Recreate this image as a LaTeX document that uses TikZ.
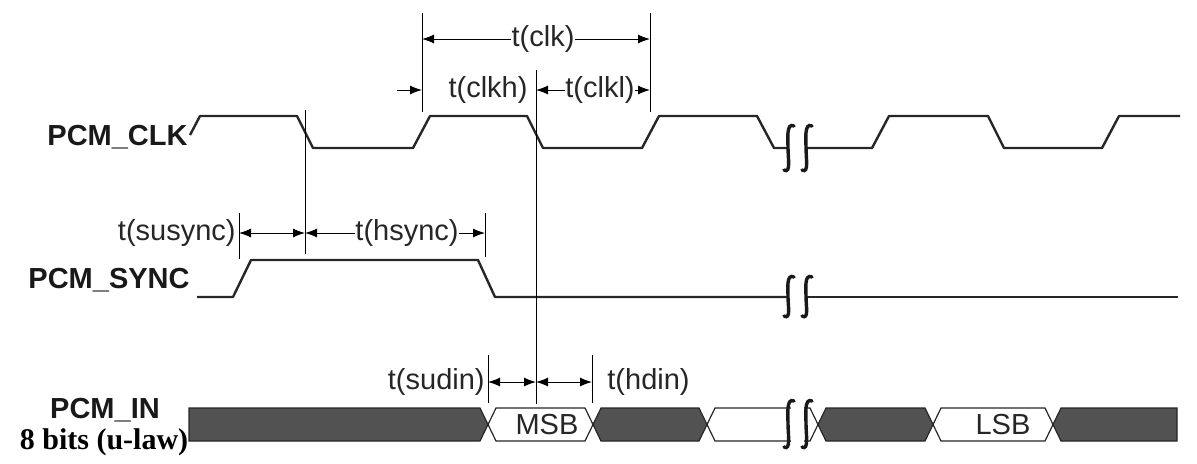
\documentclass[tikz,border=0pt]{standalone}
\usepackage{fontspec}
\setmainfont{Liberation Sans}
\newfontfamily\timesfont{Liberation Serif}
\usetikzlibrary{arrows.meta}

\begin{document}
\begin{tikzpicture}[x=0.5pt,y=-0.5pt,
  every path/.style={>={Latex[length=6pt,width=4.5pt]}},
  sig/.style={draw=black!85,line width=1.2pt,line join=round},
  dim/.style={draw=black,line width=0.5pt},
  lbl/.style={inner sep=0pt,text=black!85,font=\fontsize{14.5}{17}\selectfont},
  signame/.style={inner sep=0pt,text=black!90,font=\fontsize{14.5}{17}\selectfont\bfseries},
  busfill/.style={draw=black!85,line width=0.6pt,fill=black!68},
  busfree/.style={draw=black!85,line width=0.6pt,fill=white},
  brk/.style={draw=black!90,line width=1.7pt,line cap=round}]
\useasboundingbox (0,0) rectangle (1197,463);
% signal names
\node[signame,anchor=base east] (clkname)  at (188,145) {PCM\_CLK};
\node[signame,anchor=base east] (syncname) at (190,288) {PCM\_SYNC};
\node[signame,anchor=base]      (inname)   at (105,418) {PCM\_IN};
\node[inner sep=0pt,anchor=base,font=\fontsize{15}{17}\timesfont\bfseries] (inlaw) at (104,449) {8 bits (u-law)};
% PCM_CLK
\draw[sig] (190,135) -- (200,116) -- (297,116) -- (313,148) -- (413,148) -- (430,116) -- (527,116)
  -- (543,148) -- (642,148) -- (659,116) -- (757,116) -- (774,148) -- (788,148);
\draw[sig] (806,148) -- (872,148) -- (889,116) -- (988,116) -- (1004,148) -- (1102,148)
  -- (1119,116) -- (1180,116);
% PCM_SYNC
\draw[sig] (197,297) -- (233,297) -- (251,260) -- (478,260) -- (495,297) -- (788,297);
\draw[sig] (806,297) -- (1178,297);
% PCM_IN
\draw[busfill] (189,408) -- (480,408) -- (488,424.5) -- (480,441) -- (189,441) -- cycle;
\draw[busfree] (488,424.5) -- (496,408) -- (585,408) -- (593,424.5) -- (585,441) -- (496,441) -- cycle;
\draw[busfill] (593,424.5) -- (601,408) -- (699,408) -- (707,424.5) -- (699,441) -- (601,441) -- cycle;
\draw[busfree] (707,424.5) -- (715,408) -- (810,408) -- (818,424.5) -- (810,441) -- (715,441) -- cycle;
\draw[busfill] (818,424.5) -- (826,408) -- (925,408) -- (933,424.5) -- (925,441) -- (826,441) -- cycle;
\draw[busfree] (933,424.5) -- (941,408) -- (1045,408) -- (1053,424.5) -- (1045,441) -- (941,441) -- cycle;
\draw[busfill] (1053,424.5) -- (1061,408) -- (1177,408) -- (1177,441) -- (1061,441) -- cycle;
\node[lbl] (msb) at (547,424.5) {MSB};
\node[lbl] (lsb) at (1003,424.5) {LSB};
% breaks
\fill[white] (791,403) rectangle (804,446);
\draw[brk] (794,126) .. controls (786,122) and (788,140) .. (788,148) .. controls (788,158) and (791,174) .. (784,170);
\draw[brk] (812,126) .. controls (804,122) and (806,140) .. (806,148) .. controls (806,158) and (809,174) .. (802,170);
\draw[brk] (794,277) .. controls (786,273) and (788,290) .. (788,297) .. controls (788,306) and (791,320) .. (784,316);
\draw[brk] (812,277) .. controls (804,273) and (806,290) .. (806,297) .. controls (806,306) and (809,320) .. (802,316);
\draw[brk] (794,401) .. controls (786,397) and (788,416) .. (788,424) .. controls (788,434) and (791,451) .. (784,447);
\draw[brk] (812,401) .. controls (804,397) and (806,416) .. (806,424) .. controls (806,434) and (809,451) .. (802,447);
% reference lines
\coordinate (clkt)  at (422,13);  \coordinate (clkb)  at (422,112);
\coordinate (clklt) at (650,13);  \coordinate (clklb) at (650,112);
\coordinate (midt)  at (536,70);  \coordinate (midb)  at (536,404);
\coordinate (fallt) at (305,110); \coordinate (fallb) at (305,254);
\coordinate (sust)  at (239,213); \coordinate (susb)  at (239,259);
\coordinate (hst)   at (485,213); \coordinate (hsb)   at (485,257);
\coordinate (sudt)  at (488,355); \coordinate (sudb)  at (488,403);
\coordinate (hdt)   at (592,355); \coordinate (hdb)   at (592,403);
\draw[dim] (clkt) -- (clkb);
\draw[dim] (clklt) -- (clklb);
\draw[dim] (midt) -- (midb);
\draw[dim] (fallt) -- (fallb);
\draw[dim] (sust) -- (susb);
\draw[dim] (hst) -- (hsb);
\draw[dim] (sudt) -- (sudb);
\draw[dim] (hdt) -- (hdb);
% timing labels
\node[lbl] (tclk)  at (543,39) {t(clk)};
\node[lbl] (tclkh) at (488,90) {t(clkh)};
\node[lbl] (tclkl) at (600,90) {t(clkl)};
\node[lbl,anchor=east] (tsus)  at (236,233) {t(susync)};
\node[lbl] (ths)   at (407,233) {t(hsync)};
\node[lbl,anchor=east] (tsud)  at (485,382) {t(sudin)};
\node[lbl,anchor=west] (thd)   at (607,382) {t(hdin)};
\coordinate (clkl)  at (422,39);  \coordinate (clkr)  at (650,39);
\coordinate (clkhs) at (397,90);  \coordinate (clkhe) at (422,90);
\coordinate (clkll) at (536,90);  \coordinate (clklr) at (650,90);
\coordinate (susl)  at (239,233); \coordinate (susr)  at (305,233);
\coordinate (hsr)   at (485,233);
\coordinate (sudl)  at (488,382); \coordinate (sudr)  at (536,382);
\coordinate (hdr)   at (592,382);
\draw[dim,->] (tclk) -- (clkl);
\draw[dim,->] (tclk) -- (clkr);
\draw[dim,->] (clkhs) -- (clkhe);
\draw[dim,->] (tclkl) -- (clkll);
\draw[dim,->] (tclkl) -- (clklr);
\draw[dim,<->] (susl) -- (susr);
\draw[dim,->] (ths) -- (susr);
\draw[dim,->] (ths) -- (hsr);
\draw[dim,<->] (sudl) -- (sudr);
\draw[dim,<->] (sudr) -- (hdr);
\end{tikzpicture}
\end{document}
